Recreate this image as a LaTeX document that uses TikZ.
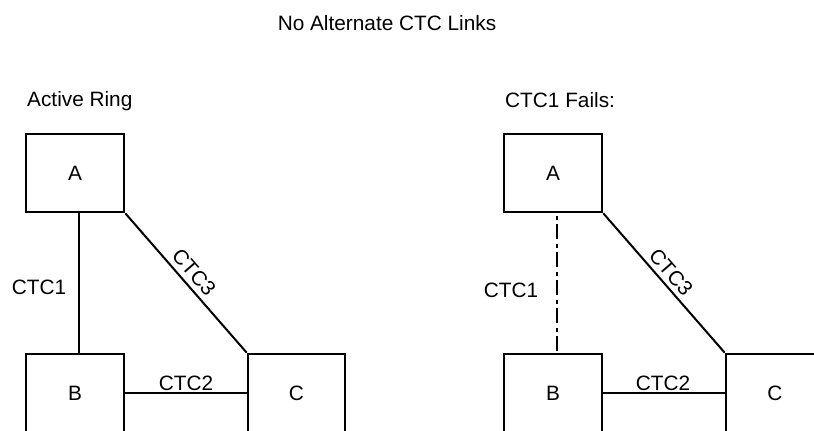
\documentclass[tikz,border=0pt]{standalone}
\usepackage{fontspec}
\setmainfont{Liberation Sans}
\begin{document}
\begin{tikzpicture}[x=1pt,y=-1pt,
  font=\fontsize{20.8}{23}\selectfont,
  boxnode/.style={draw,line width=2.6pt,rectangle,minimum width=98pt,minimum height=78pt,inner sep=0pt},
  link/.style={line width=2pt},
  faillink/.style={line width=1.3pt,dash pattern=on 15pt off 4.5pt on 4pt off 4.5pt,dash phase=17pt},
  lbl/.style={inner sep=0pt}]
\useasboundingbox (0,0) rectangle (814,431);
\clip (0,0) rectangle (814,431);
\node[lbl] (title) at (387,23) {No Alternate CTC Links};
\node[lbl,anchor=base west] (t1) at (27,106) {Active Ring};
\node[lbl,anchor=west] (t2) at (505,100) {CTC1 Fails:};
% left diagram
\node[boxnode] (A) at (75,173) {A};
\node[boxnode] (B) at (75,393) {B};
\node[boxnode,minimum width=97pt] (C) at (296.5,393) {C};
\draw[link] ([xshift=4pt]A.south) -- ([xshift=4pt]B.north);
\draw[link] (A.south east) -- (C.north west);
\draw[link] (B.east) -- (B.east -| C.west);
\node[lbl] (l1) at (39,287) {CTC1};
\node[lbl] (l2) at (186,383) {CTC2};
\node[lbl,rotate=-49] (l3) at (194,272) {CTC3};
% right diagram
\node[boxnode] (A2) at (553,173) {A};
\node[boxnode] (B2) at (553,393) {B};
\node[boxnode] (C2) at (775,393) {C};
\draw[faillink] ([xshift=4pt]A2.south) -- ([xshift=4pt]B2.north);
\draw[link] (A2.south east) -- (C2.north west);
\draw[link] (B2.east) -- (B2.east -| C2.west);
\node[lbl] (r1) at (511,290) {CTC1};
\node[lbl] (r2) at (663,383) {CTC2};
\node[lbl,rotate=-49] (r3) at (671,272) {CTC3};
\end{tikzpicture}
\end{document}
